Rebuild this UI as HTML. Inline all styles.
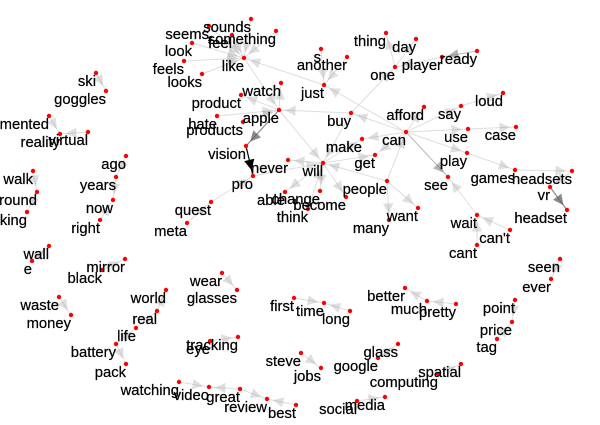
<!DOCTYPE html>
<html lang="en">
<head>
<meta charset="utf-8">
<title>Word network</title>
<style>
html,body{margin:0;padding:0;background:#fff;width:600px;height:425px;overflow:hidden}
svg{display:block}
text{font-family:"Liberation Sans",Arial,sans-serif;font-size:14.8px;fill:#000;stroke:#000;stroke-width:.22px;text-anchor:end}
</style>
</head>
<body>
<svg id="chart" width="600" height="425" viewBox="0 0 600 425" xmlns="http://www.w3.org/2000/svg"></svg>
<script>
const nodeLabels = ["something","sounds","seems","feel","look","feels","looks","like","s","another","just","watch","product","apple","hate","products","buy","thing","day","one","player","ready","afford","say","loud","use","case","can","make","get","play","vision","never","pro","will","people","want","many","able","change","become","think","quest","games","headsets","vr","see","headset","wait","can't","cant","seen","ever","point","price","tag","ski","goggles","augmented","reality","virtual","ago","years","now","right","walk","around","looking","meta","wall","e","mirror","black","waste","money","world","real","life","battery","pack","watching","tracking","eye","video","great","review","best","steve","first","time","long","better","much","pretty","glass","google","jobs","computing","spatial","social","media","wear","glasses"];
const layoutX = [-24,-49,-91,-68,-108,-116,-98,-56,21,47,24,-19,-59,-21,-83,-57,51,86,116,95,142,177,124,161,203,168,216,106,62,75,167,-54,-12,-47,23,87,118,89,-15,20,46,8,-89,215,272,250,148,267,177,210,177,260,251,215,212,197,-204,-194,-251,-240,-212,-174,-184,-187,-200,-267,-263,-273,-113,-251,-268,-175,-198,-241,-229,-134,-143,-164,-184,-174,-121,-62,-90,-91,-60,-33,-4,1,-6,24,50,105,127,156,98,78,21,138,161,57,85,-78,-63];
const layoutY = [181,193,186,177,169,151,138,154,163,155,127,129,117,102,96,90,99,179,173,145,155,161,105,106,119,83,85,80,73,57,59,66,52,36,49,31,4,-8,20,21,15,3,10,42,41,25,35,2,-3,-18,-33,-47,-67,-88,-110,-127,139,121,96,78,80,56,35,12,-8,41,20,0,-11,-34,-49,-47,-58,-85,-103,-78,-99,-116,-132,-152,-170,-125,-129,-175,-177,-187,-193,-141,-86,-91,-99,-76,-89,-92,-132,-146,-156,-162,-152,-189,-185,-61,-78];
const edgeFrom = ["something","sounds","seems","feel","look","feels","looks","just","like","apple","apple","hate","products","buy","apple","apple","vision","buy","will","pro","quest","will","will","think","will","people","will","will","can","can","people","people","people","can","can","can","can","can","can","can","say","use","play","games","headsets","vr","wait","cant","can't","another","s","one","one","buy","player","ready","ski","augmented","virtual","ago","years","right","walk","around","meta","e","black","waste","real","life","battery","battery","watching","great","great","best","eye","wear","first","long","steve","much","pretty","google","computing","social","seen","point","tag"];
const edgeTo = ["like","like","like","like","like","like","like","like","apple","watch","product","apple","apple","apple","vision","will","pro","will","never","will","pro","able","change","will","become","will","make","get","make","get","can","want","many","afford","buy","use","play","see","just","say","loud","case","games","headsets","vr","headset","see","wait","wait","just","just","thing","day","one","one","player","goggles","reality","reality","years","now","now","around","looking","quest","wall","mirror","money","world","real","life","pack","video","video","review","review","tracking","glasses","time","time","jobs","better","much","glass","spatial","media","ever","price","price"];
const edgeWeight = [1,1,1,1,1,1,1,1,1,1,1,1,1,1,3,1,8,1,1,1,1,1,1,1,1,1,1,1,1,1,1,1,1,1,1,1,1,2,1,1,1,1,1,1,1,3,1,1,1,1,1,1,1,1,1,2,1,1,1,1,1,1,1,1,1,1,1,1,1,1,1,1,1,1,1,1,1,1,1,1,1,1,1,1,1,1,1,1,1];

const svgNS = "http://www.w3.org/2000/svg";
const chart = document.getElementById("chart");
const xScale = v => 300 + v;
const yScale = v => 212 - v;
const lineColor = w => w >= 8 ? "#000" : w >= 3 ? "#8c8c8c" : w >= 2 ? "#bbb" : "#dedede";
const arrowFill = w => w >= 8 ? "#000" : w >= 3 ? "rgba(100,100,100,.75)" : w >= 2 ? "rgba(120,120,120,.55)" : "rgba(150,150,150,.3)";
const TIP_GAP = 6, ARROW_LEN = 10.5, ARROW_HALF = 5.2;

function make(tag, attrs, parent) {
  const el = document.createElementNS(svgNS, tag);
  for (const k in attrs) el.setAttribute(k, attrs[k]);
  parent.appendChild(el);
  return el;
}

const edgeLayer = make("g", {}, chart);


edgeFrom.forEach((from, i) => {
  const a = nodeLabels.indexOf(from), b = nodeLabels.indexOf(edgeTo[i]);
  const x1 = xScale(layoutX[a]), y1 = yScale(layoutY[a]);
  const x2 = xScale(layoutX[b]), y2 = yScale(layoutY[b]);
  const d = Math.hypot(x2 - x1, y2 - y1) || 1;
  const ux = (x2 - x1) / d, uy = (y2 - y1) / d;
  const w = edgeWeight[i];
  const line = make("line", {x1, y1, x2, y2, stroke: lineColor(w), "stroke-width": w >= 3 ? 1.2 : 1}, edgeLayer);
  
  
  const tx = x2 - ux * TIP_GAP, ty = y2 - uy * TIP_GAP;
  const bx = tx - ux * ARROW_LEN, by = ty - uy * ARROW_LEN;
  const pts = [tx, ty, bx - uy * ARROW_HALF, by + ux * ARROW_HALF, bx + uy * ARROW_HALF, by - ux * ARROW_HALF];
  const arrow = make("polygon", {points: pts.map(n => n.toFixed(1)).join(" "), fill: arrowFill(w)}, edgeLayer);
  
  
});

const nodeLayer = make("g", {}, chart);


const labelLayer = make("g", {}, chart);


nodeLabels.forEach((label, i) => {
  const cx = xScale(layoutX[i]), cy = yScale(layoutY[i]);
  const dot = make("circle", {cx, cy, r: 2.2, fill: "#f00"}, nodeLayer);
  
  
  const t = make("text", {x: cx, y: cy + 13}, labelLayer);
  t.textContent = label;
  
  
});
</script>
</body>
</html>
